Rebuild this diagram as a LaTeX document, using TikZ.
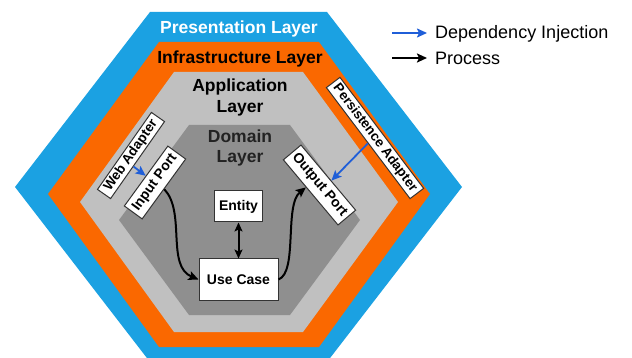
\documentclass[tikz,border=0pt]{standalone}
\usepackage{fontspec}
\setmainfont{Liberation Sans}
\usetikzlibrary{arrows.meta,calc}
\definecolor{presblue}{HTML}{1BA1E2}
\definecolor{infraorange}{HTML}{FA6800}
\definecolor{appgray}{HTML}{C0C0C0}
\definecolor{domgray}{HTML}{8F8F8F}
\definecolor{dititle}{HTML}{222222}
\definecolor{diblue}{HTML}{1F5ED8}
\tikzset{
  layertitle/.style={font=\fontsize{17.5}{20.5}\selectfont\bfseries, inner sep=0pt, align=center},
  whitebox/.style={draw=black!80, fill=white, line width=1pt, inner sep=0pt,
    font=\fontsize{14}{16}\selectfont\bfseries},
  adapterbox/.style={whitebox, font=\fontsize{13.5}{15}\selectfont\bfseries},
  diarrow/.style={draw=diblue, line width=1.8pt, -{Stealth[length=10pt,width=9pt,inset=2pt]}},
  procarrow/.style={draw=black, line width=2pt, -{Stealth[length=10pt,width=9pt,inset=2pt]}},
  legendtext/.style={font=\fontsize{18}{20}\selectfont, inner sep=0pt, anchor=base west}
}
\begin{document}
\begin{tikzpicture}[x=1pt,y=-1pt]
\useasboundingbox (0,0) rectangle (632,358);
% layers
\fill[presblue] (150,12) -- (327,12) -- (462,187) -- (327,362) -- (150,362) -- (15,187) -- cycle;
\fill[infraorange] (159,42) -- (319,42) -- (430,194) -- (319,347) -- (159,347) -- (48,194) -- cycle;
\fill[appgray] (174,72) -- (303,72) -- (398,202) -- (303,332) -- (174,332) -- (80,202) -- cycle;
\fill[domgray] (189,125) -- (290,125) -- (360,220) -- (290,315) -- (189,315) -- (119,220) -- cycle;
% titles
\node[layertitle, text=white, anchor=base] (pres) at (239,33.5) {Presentation Layer};
\node[layertitle, text=black, anchor=base] (infra) at (240,63.5) {Infrastructure Layer};
\node[layertitle, text=black] (app) at (240,97.5) {Application\\Layer};
\node[layertitle, text=dititle] (dom) at (240,148) {Domain\\Layer};
% boxes
\node[adapterbox, rotate=55, minimum width=94pt, minimum height=16pt] (wa) at (131,155.5) {Web Adapter};
\node[whitebox, rotate=54, minimum width=74pt, minimum height=22pt] (ip) at (155,182.5) {Input Port};
\node[whitebox, rotate=-50, minimum width=85pt, minimum height=23pt] (op) at (319.5,185) {Output Port};
\node[adapterbox, rotate=-53, minimum width=139pt, minimum height=17pt] (pa) at (375,138) {Persistence Adapter};
\node[whitebox, minimum width=48pt, minimum height=31pt] (en) at (238.5,206.5) {Entity};
\node[whitebox, minimum width=79pt, minimum height=41pt] (us) at (238.5,279.5) {Use Case};
% dependency injection
\draw[diarrow] ($(wa.south west)!0.42!(wa.south east)$) -- ($(ip.north west)!0.5!(ip.north east)$);
\draw[diarrow] ($(pa.south west)!0.5!(pa.south east)$) -- ($(op.north west)!0.55!(op.north east)$);
% process
\draw[procarrow] ($(ip.south west)!0.5!(ip.south east)$) .. controls (186,212) and (166,266) .. (us.west);
\draw[procarrow] (us.east) .. controls (298,272) and (284,205) .. ($(op.south west)!0.42!(op.south east)$);
\draw[draw=black, line width=2pt, {Stealth[length=9pt,width=8pt,inset=2pt]}-{Stealth[length=9pt,width=8pt,inset=2pt]}] (en.south) -- (us.north);
% legend
\coordinate (l1s) at (392,33);
\coordinate (l1e) at (427,33);
\coordinate (l2s) at (392,58);
\coordinate (l2e) at (427,58);
\draw[diarrow] (l1s) -- (l1e);
\draw[procarrow] (l2s) -- (l2e);
\node[legendtext] (l1t) at (435,39) {Dependency Injection};
\node[legendtext] (l2t) at (435,64.5) {Process};
\end{tikzpicture}
\end{document}
